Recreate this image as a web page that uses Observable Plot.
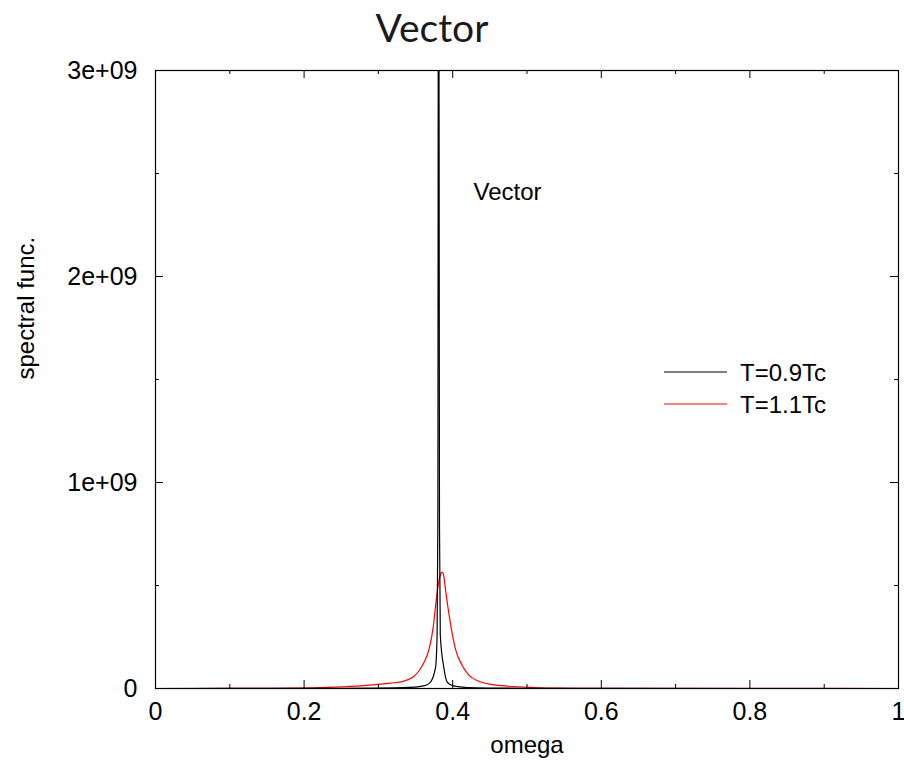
<!DOCTYPE html>
<html>
<head>
<meta charset="utf-8">
<script src="https://cdn.jsdelivr.net/npm/d3@7"></script>
<script src="https://cdn.jsdelivr.net/npm/@observablehq/plot@0.6"></script>
<style>
  body { margin: 0; background: #fff; }
  #wrap { position: relative; width: 904px; height: 762px; }
  #wrap svg { position: absolute; left: 0; top: 0; }
</style>
</head>
<body>
<div id="wrap"></div>
<script>
// ---- data ----
const omegaCold = [0, 0.20, 0.30, 0.34, 0.355, 0.3634, 0.3701, 0.3769, 0.3790, 0.3800, 0.3810, 0.3822, 0.3833, 0.3880, 0.3926, 0.3993, 0.41, 0.42, 0.45, 0.50, 0.60, 1.0];
const specCold  = [0, 0.0005e9, 0.002e9, 0.005e9, 0.009e9, 0.015e9, 0.031e9, 0.103e9, 0.26e9, 0.8e9, 5.0e9, 0.8e9, 0.26e9, 0.103e9, 0.031e9, 0.015e9, 0.008e9, 0.004e9, 0.002e9, 0.001e9, 0.0003e9, 0];

const omegaHot = [0, 0.10, 0.15, 0.1907, 0.2311, 0.258, 0.2938, 0.3163, 0.3342, 0.3476, 0.3544, 0.3610, 0.3678, 0.3738, 0.3769, 0.3809, 0.3835, 0.3859, 0.3880, 0.3903, 0.3970, 0.4038, 0.4128, 0.4217, 0.4351, 0.4532, 0.4755, 0.507, 0.5384, 0.60, 0.80, 1.0];
const specHot  = [0, 0.0002e9, 0.0006e9, 0.0015e9, 0.005e9, 0.0097e9, 0.018e9, 0.026e9, 0.036e9, 0.058e9, 0.085e9, 0.124e9, 0.186e9, 0.298e9, 0.40e9, 0.51e9, 0.552e9, 0.565e9, 0.545e9, 0.48e9, 0.315e9, 0.19e9, 0.112e9, 0.065e9, 0.035e9, 0.019e9, 0.011e9, 0.005e9, 0.0015e9, 0.0008e9, 0.0003e9, 0.0001e9];

const seriesNames = ["T=0.9Tc", "T=1.1Tc"];
const seriesColors = ["#000000", "#ff0000"];

const xMajor = [0, 0.2, 0.4, 0.6, 0.8, 1];
const xMinor = [0.1, 0.3, 0.5, 0.7, 0.9];
const xTickLabels = ["0", "0.2", "0.4", "0.6", "0.8", "1"];
const yMajor = [0, 1e9, 2e9, 3e9];
const yMinor = [0.5e9, 1.5e9, 2.5e9];
const yTickLabels = ["0", "1e+09", "2e+09", "3e+09"];

const titleText = "Vector";
const xLabel = "omega";
const yLabel = "spectral func.";
const annotation = [{omega: 0.428, value: 2.41e9, text: "Vector"}];

// ---- layout ----
const W = 904, H = 762;
const mT = 70, mB = 74, mL = 155, mR = 6;
const plotW = W - mL - mR, plotH = H - mT - mB;
const FONT = "'Liberation Sans', Arial, sans-serif";

const cold = omegaCold.map((o, i) => ({omega: o, value: specCold[i]}));
const hot = omegaHot.map((o, i) => ({omega: o, value: specHot[i]}));

const chart = Plot.plot({
  width: W, height: H,
  marginTop: mT, marginBottom: mB, marginLeft: mL, marginRight: mR,
  style: {fontFamily: FONT, fontSize: "25px", color: "#000", background: "#fff"},
  x: {domain: [0, 1]},
  y: {domain: [0, 3e9]},
  marks: [
    Plot.line(hot, {x: "omega", y: "value", stroke: seriesColors[1], strokeWidth: 1.2, curve: "monotone-x", clip: true}),
    Plot.line(cold, {x: "omega", y: "value", stroke: seriesColors[0], strokeWidth: 1.2, curve: "monotone-x", clip: true}),
    Plot.frame({stroke: "#000", strokeWidth: 1.2}),
    // inward ticks: bottom & top
    Plot.tickX(xMajor, {x: d => d, insetTop: plotH - 8, stroke: "#000"}),
    Plot.tickX(xMajor, {x: d => d, insetBottom: plotH - 8, stroke: "#000"}),
    Plot.tickX(xMinor, {x: d => d, insetTop: plotH - 4, stroke: "#000"}),
    Plot.tickX(xMinor, {x: d => d, insetBottom: plotH - 4, stroke: "#000"}),
    // inward ticks: left & right
    Plot.tickY(yMajor, {y: d => d, insetRight: plotW - 8, stroke: "#000"}),
    Plot.tickY(yMajor, {y: d => d, insetLeft: plotW - 8, stroke: "#000"}),
    Plot.tickY(yMinor, {y: d => d, insetRight: plotW - 4, stroke: "#000"}),
    Plot.tickY(yMinor, {y: d => d, insetLeft: plotW - 4, stroke: "#000"}),
    Plot.axisX(xMajor, {anchor: "bottom", tickSize: 0, tickPadding: 14, label: null,
      tickFormat: d => xTickLabels[xMajor.indexOf(d)], fontSize: 25}),
    Plot.axisY(yMajor, {anchor: "left", tickSize: 0, tickPadding: 18, label: null,
      tickFormat: d => yTickLabels[yMajor.indexOf(d)], fontSize: 25}),
    Plot.text([xLabel], {text: d => d, frameAnchor: "bottom", dy: 57, lineAnchor: "middle", fontSize: 24}),
    Plot.text([yLabel], {text: d => d, frameAnchor: "left", dx: -129, rotate: -90, lineAnchor: "middle", fontSize: 24}),
    Plot.text(annotation, {x: "omega", y: "value", text: "text", textAnchor: "start", lineAnchor: "middle", fontSize: 24})
  ]
});
document.getElementById("wrap").appendChild(chart);

// ---- title and legend overlay ----
const ns = "http://www.w3.org/2000/svg";
const ov = document.createElementNS(ns, "svg");
ov.setAttribute("width", W); ov.setAttribute("height", H);
ov.style.pointerEvents = "none";
function el(tag, attrs, text) {
  const e = document.createElementNS(ns, tag);
  for (const k in attrs) e.setAttribute(k, attrs[k]);
  if (text != null) e.textContent = text;
  ov.appendChild(e);
  return e;
}
el("text", {x: 432, y: 42, "text-anchor": "middle", "font-family": "Lato, 'Noto Sans', sans-serif", "font-weight": 400, "font-size": 39, fill: "#1a1a1a"}, titleText);
const legY = [372, 404];
seriesNames.forEach((name, i) => {
  el("line", {x1: 664, x2: 727, y1: legY[i], y2: legY[i], stroke: seriesColors[i], "stroke-width": 1.2});
  el("text", {x: 740, y: legY[i] + 9, "font-family": FONT, "font-size": 24, fill: "#000"}, name);
});
document.getElementById("wrap").appendChild(ov);
</script>
</body>
</html>
